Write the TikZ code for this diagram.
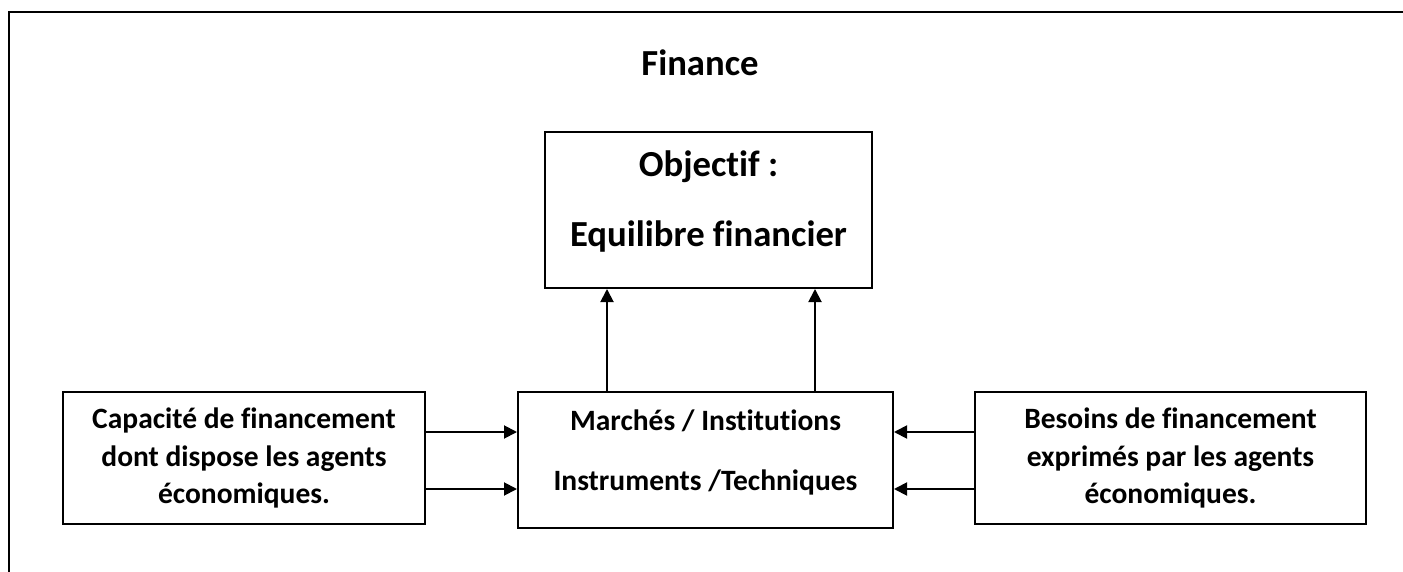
\documentclass[tikz,border=0pt]{standalone}
\usepackage{fontspec}
\setmainfont{Carlito}[Ligatures=NoCommon]
\usetikzlibrary{arrows.meta,calc}
\tikzset{
	boite/.style={draw=black, line width=2pt, align=center, inner sep=0pt},
	fleche/.style={line width=1.9pt, -{Triangle[length=13pt,width=13pt]}},
}

\begin{document}
\begin{tikzpicture}[x=1pt, y=-1pt]
			%%%%% START %%%%%
			
			\useasboundingbox (0, 0) rectangle (1403, 572);
			
			\draw[line width=2.8pt] (1403, 12) -- (9, 12) -- (9, 572);
			
			\node[font=\fontsize{36.7}{44}\selectfont\bfseries] (titre) at (700, 63) {Finance};
			
			\node[boite, minimum width=327pt, minimum height=156pt] (obj) at (708.5, 210) {};
			\node[font=\fontsize{36.7}{70}\selectfont\bfseries, align=center] (objtxt) at (708.5, 202) {Objectif :\\Equilibre financier};
			
			\node[boite, minimum width=375pt, minimum height=136pt] (mid) at (705.5, 460) {};
			\node[font=\fontsize{29.5}{60}\selectfont\bfseries, align=center] (midtxt) at (705.5, 452) {Marchés / Institutions\\Instruments /Techniques};
			
			\node[boite, minimum width=362pt, minimum height=132pt, font=\fontsize{29.5}{37.5}\selectfont\bfseries] (gauche) at (244, 458) {Capacité de financement\\dont dispose les agents\\économiques.};
			\node[boite, minimum width=391pt, minimum height=132pt, font=\fontsize{29.5}{37.5}\selectfont\bfseries] (droite) at (1170.5, 458) {Besoins de financement\\exprimés par les agents\\économiques.};
			
			\draw[fleche] ([xshift=-98.5pt]mid.north) -- ([xshift=-98.5pt]mid.north |- obj.south);
			\draw[fleche] ([xshift=109.5pt]mid.north) -- ([xshift=109.5pt]mid.north |- obj.south);
			
			\draw[fleche] ([yshift=28pt]mid.west -| gauche.east) -- ([yshift=28pt]mid.west);
			\draw[fleche] ([yshift=-29pt]mid.west -| gauche.east) -- ([yshift=-29pt]mid.west);
			\draw[fleche] ([yshift=28pt]mid.east -| droite.west) -- ([yshift=28pt]mid.east);
			\draw[fleche] ([yshift=-29pt]mid.east -| droite.west) -- ([yshift=-29pt]mid.east);
			
			%%%%% END %%%%%
\end{tikzpicture}
\end{document}
